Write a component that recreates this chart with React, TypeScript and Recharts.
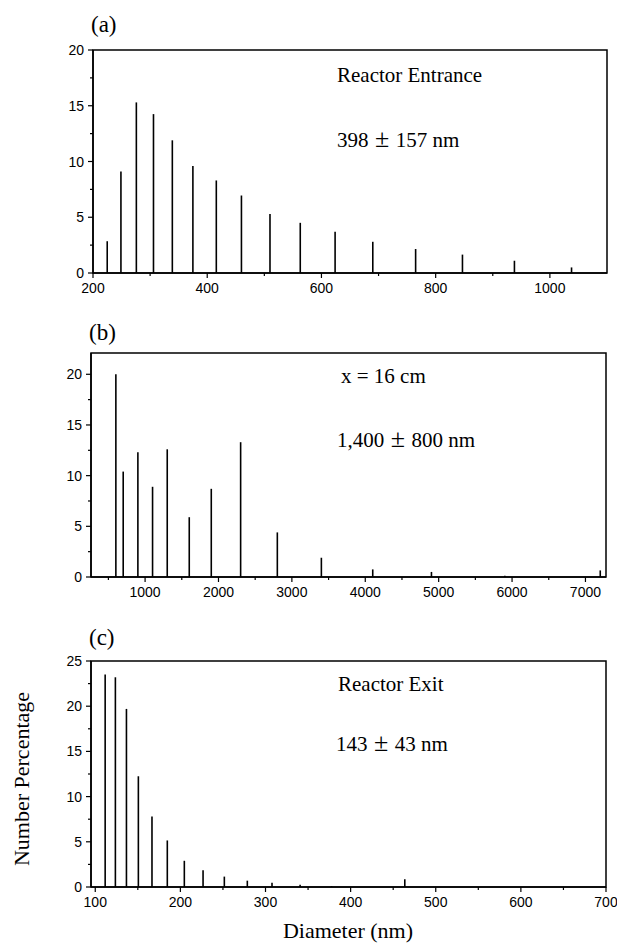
import React from 'react';
import { ComposedChart, Bar, XAxis, YAxis, ReferenceArea } from 'recharts';

// panel (a) - reactor entrance
const entranceDiameters = [225, 249, 276, 306, 339, 375, 416, 460, 510, 563, 624, 690, 765, 847, 938, 1038];
const entrancePct = [2.85, 9.1, 15.3, 14.25, 11.9, 9.6, 8.3, 6.95, 5.3, 4.5, 3.7, 2.8, 2.15, 1.65, 1.1, 0.5];

// panel (b) - x = 16 cm
const midDiameters = [600, 700, 900, 1100, 1300, 1600, 1900, 2300, 2800, 3400, 4100, 4900, 5900, 7200];
const midPct = [20.0, 10.4, 12.3, 8.9, 12.6, 5.9, 8.7, 13.3, 4.4, 1.9, 0.75, 0.5, 0.13, 0.65];

// panel (c) - reactor exit
const exitDiameters = [112, 124, 137, 151, 167, 185, 205, 227, 252, 279, 308, 341, 378, 464];
const exitPct = [23.5, 23.2, 19.7, 12.25, 7.8, 5.15, 2.9, 1.85, 1.15, 0.7, 0.48, 0.26, 0.1, 0.85];

// axis ticks
const entranceXMajor = [200, 400, 600, 800, 1000];
const entranceXMinor = [300, 500, 700, 900];
const midXMajor = [1000, 2000, 3000, 4000, 5000, 6000, 7000];
const midXMinor = [500, 1500, 2500, 3500, 4500, 5500, 6500];
const exitXMajor = [100, 200, 300, 400, 500, 600, 700];
const exitXMinor = [150, 250, 350, 450, 550, 650];
const yMajor20 = [0, 5, 10, 15, 20];
const yMinor20 = [2.5, 7.5, 12.5, 17.5];
const yMajor25 = [0, 5, 10, 15, 20, 25];
const yMinor25 = [2.5, 7.5, 12.5, 17.5, 22.5];

const W = 617;
const H = 946;
const SANS = '"Liberation Sans", Arial, sans-serif';
const SERIF = '"Liberation Serif", "Times New Roman", serif';

const makeXTick = (major: number[]) => (props: any) => {
  const { x, y, payload } = props;
  const isMajor = major.includes(payload.value);
  return (
    <g>
      <line x1={x} x2={x} y1={y} y2={y + (isMajor ? 5 : 3)} stroke="#000" strokeWidth={1.2} />
      {isMajor && (
        <text x={x} y={y + 20} textAnchor="middle" fontSize={14} fontFamily={SANS} fill="#000">
          {payload.value}
        </text>
      )}
    </g>
  );
};

const makeYTick = (major: number[]) => (props: any) => {
  const { x, y, payload } = props;
  const isMajor = major.includes(payload.value);
  return (
    <g>
      <line x1={x} x2={x - (isMajor ? 5 : 3)} y1={y} y2={y} stroke="#000" strokeWidth={1.2} />
      {isMajor && (
        <text x={x - 9} y={y} dy="0.36em" textAnchor="end" fontSize={14} fontFamily={SANS} fill="#000">
          {payload.value}
        </text>
      )}
    </g>
  );
};

interface PanelProps {
  xs: number[];
  ys: number[];
  xDomain: [number, number];
  yMax: number;
  xMajor: number[];
  xMinor: number[];
  yMajor: number[];
  yMinor: number[];
  box: { left: number; right: number; top: number; bottom: number };
}

function Panel({ xs, ys, xDomain, yMax, xMajor, xMinor, yMajor, yMinor, box }: PanelProps) {
  const data = xs.map((d, i) => ({ d, pct: ys[i] }));
  const xTicks = [...xMajor, ...xMinor].sort((a, b) => a - b);
  const yTicks = [...yMajor, ...yMinor].sort((a, b) => a - b);
  return (
    <div style={{ position: 'absolute', left: 0, top: 0 }}>
      <ComposedChart
        width={W}
        height={H}
        data={data}
        margin={{ top: box.top, left: box.left - 40, right: W - box.right, bottom: H - box.bottom - 30 }}
      >
        <XAxis
          dataKey="d"
          type="number"
          domain={xDomain}
          allowDataOverflow
          ticks={xTicks}
          interval={0}
          height={30}
          tickSize={0}
          tickMargin={0}
          tickLine={false}
          axisLine={{ stroke: '#000', strokeWidth: 1.5 }}
          tick={makeXTick(xMajor)}
        />
        <YAxis
          type="number"
          domain={[0, yMax]}
          allowDataOverflow
          ticks={yTicks}
          interval={0}
          width={40}
          tickSize={0}
          tickMargin={0}
          tickLine={false}
          axisLine={{ stroke: '#000', strokeWidth: 1.5 }}
          tick={makeYTick(yMajor)}
        />
        <ReferenceArea
          x1={xDomain[0]}
          x2={xDomain[1]}
          y1={0}
          y2={yMax}
          fill="none"
          fillOpacity={0}
          stroke="#000"
          strokeWidth={1.5}
        />
        <Bar dataKey="pct" fill="#000" barSize={1.6} isAnimationActive={false} />
      </ComposedChart>
    </div>
  );
}

const PlusMinus = () => <tspan fontSize={26}> ± </tspan>;

export default function App() {
  return (
    <div style={{ position: 'absolute', left: 0, top: 0, width: W, height: H, background: '#fff' }}>
      <Panel
        xs={entranceDiameters}
        ys={entrancePct}
        xDomain={[200, 1100]}
        yMax={20}
        xMajor={entranceXMajor}
        xMinor={entranceXMinor}
        yMajor={yMajor20}
        yMinor={yMinor20}
        box={{ left: 93, right: 607, top: 50, bottom: 273 }}
      />
      <Panel
        xs={midDiameters}
        ys={midPct}
        xDomain={[263, 7280]}
        yMax={22.1}
        xMajor={midXMajor}
        xMinor={midXMinor}
        yMajor={yMajor20}
        yMinor={yMinor20}
        box={{ left: 91, right: 606, top: 353, bottom: 577 }}
      />
      <Panel
        xs={exitDiameters}
        ys={exitPct}
        xDomain={[95, 700]}
        yMax={25}
        xMajor={exitXMajor}
        xMinor={exitXMinor}
        yMajor={yMajor25}
        yMinor={yMinor25}
        box={{ left: 91, right: 606, top: 661, bottom: 887 }}
      />
      <svg
        width={W}
        height={H}
        style={{ position: 'absolute', left: 0, top: 0, pointerEvents: 'none' }}
        fontFamily={SERIF}
        fill="#000"
      >
        <text x={91} y={32} fontSize={23}>(a)</text>
        <text x={89} y={340} fontSize={23}>(b)</text>
        <text x={89} y={645} fontSize={23}>(c)</text>
        <text x={337} y={82} fontSize={21}>Reactor Entrance</text>
        <text x={337} y={147} fontSize={21}>398<PlusMinus />157 nm</text>
        <text x={341} y={383} fontSize={21}>x = 16 cm</text>
        <text x={337} y={447} fontSize={21}>1,400<PlusMinus />800 nm</text>
        <text x={338} y={691} fontSize={21}>Reactor Exit</text>
        <text x={336} y={751} fontSize={21}>143<PlusMinus />43 nm</text>
        <text x={348} y={938} fontSize={22} textAnchor="middle">Diameter (nm)</text>
        <text x={29} y={779} fontSize={22} textAnchor="middle" transform="rotate(-90 29 779)">
          Number Percentage
        </text>
      </svg>
    </div>
  );
}
